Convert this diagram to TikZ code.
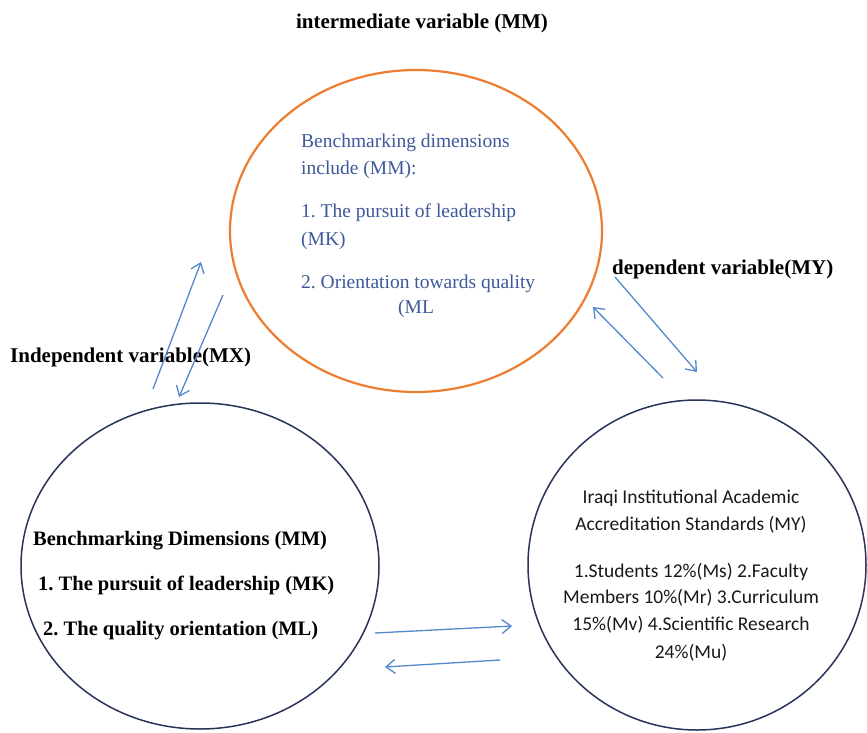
\documentclass[tikz,border=0pt]{standalone}
\usepackage{fontspec}
\setmainfont{Liberation Serif}
\newfontfamily\calib{Carlito}
\usetikzlibrary{shapes.geometric,arrows.meta}
\definecolor{orng}{RGB}{237,125,49}
\definecolor{navy}{RGB}{40,52,90}
\definecolor{bluetxt}{RGB}{62,88,155}
\definecolor{arrowblue}{RGB}{84,136,205}
\tikzset{
  oval/.style={draw, ellipse, inner sep=0pt},
  lbl/.style={font=\bfseries\fontsize{21}{24}\selectfont, inner sep=0pt},
  bluetext/.style={text=bluetxt, font=\fontsize{19.5}{22}\selectfont, inner sep=0pt, anchor=base west},
  bltext/.style={font=\bfseries\fontsize{20.5}{24}\selectfont, inner sep=0pt, anchor=base west},
  brtext/.style={font=\calib\fontsize{19.5}{22}\selectfont, text=black!90, inner sep=0pt, anchor=base},
  link/.style={draw=arrowblue, line width=1.3pt, -{Straight Barb[length=9pt,width=14pt]}}
}
\begin{document}
\frenchspacing
\begin{tikzpicture}[x=1pt,y=-1pt]
\useasboundingbox (0,0) rectangle (867,733);
\fill[white] (0,0) rectangle (867,733);
% ellipses
\node[oval, draw=orng, line width=2.2pt, minimum width=372pt, minimum height=322pt] (mid) at (416,231) {};
\node[oval, draw=navy, line width=1.5pt, minimum width=358pt, minimum height=326pt] (left) at (200,566) {};
\node[oval, draw=navy, line width=1.5pt, minimum width=338pt, minimum height=330pt] (right) at (697,565) {};
% labels
\node[lbl, anchor=base] (lmid) at (422,29) {intermediate variable (MM)};
\node[lbl, anchor=base west] (lind) at (10,362) {Independent variable(MX)};
\node[lbl, anchor=base west] (ldep) at (612,274) {dependent variable(MY)};
% top text
\node[bluetext] (m1) at (301,147) {Benchmarking dimensions};
\node[bluetext] (m2) at (301,175) {include (MM):};
\node[bluetext] (m3) at (301,217) {1. The pursuit of leadership};
\node[bluetext] (m4) at (301,245) {(MK)};
\node[bluetext] (m5) at (301,288) {2. Orientation towards quality};
\node[bluetext] (m6) at (398,313) {(ML};
% bottom-left text
\node[bltext] (b1) at (33,545) {Benchmarking Dimensions (MM)};
\node[bltext] (b2) at (38,590) {1. The pursuit of leadership (MK)};
\node[bltext] (b3) at (43,635) {2. The quality orientation (ML)};
% bottom-right text
\node[brtext] (r1) at (691,503) {Iraqi Institutional Academic};
\node[brtext] (r2) at (691,530) {Accreditation Standards (MY)};
\node[brtext] (r3) at (691,577) {1.Students 12\%(Ms) 2.Faculty};
\node[brtext] (r4) at (691,603) {Members 10\%(Mr) 3.Curriculum};
\node[brtext] (r5) at (691,630) {15\%(Mv) 4.Scientific Research};
\node[brtext] (r6) at (691,658) {24\%(Mu)};
% arrow end points
\coordinate (a1s) at (153,389);
\coordinate (a1e) at (201,262);
\coordinate (a2s) at (223,295);
\coordinate (a2e) at (179,397);
\coordinate (a3s) at (615,277);
\coordinate (a3e) at (697,372);
\coordinate (a4s) at (663,378);
\coordinate (a4e) at (593,307);
\coordinate (a5s) at (375,633);
\coordinate (a5e) at (512,626);
\coordinate (a6s) at (500,660);
\coordinate (a6e) at (385,667);
\draw[link] (a1s) -- (a1e);
\draw[link] (a2s) -- (a2e);
\draw[link] (a3s) -- (a3e);
\draw[link] (a4s) -- (a4e);
\draw[link] (a5s) -- (a5e);
\draw[link] (a6s) -- (a6e);
\end{tikzpicture}
\end{document}
